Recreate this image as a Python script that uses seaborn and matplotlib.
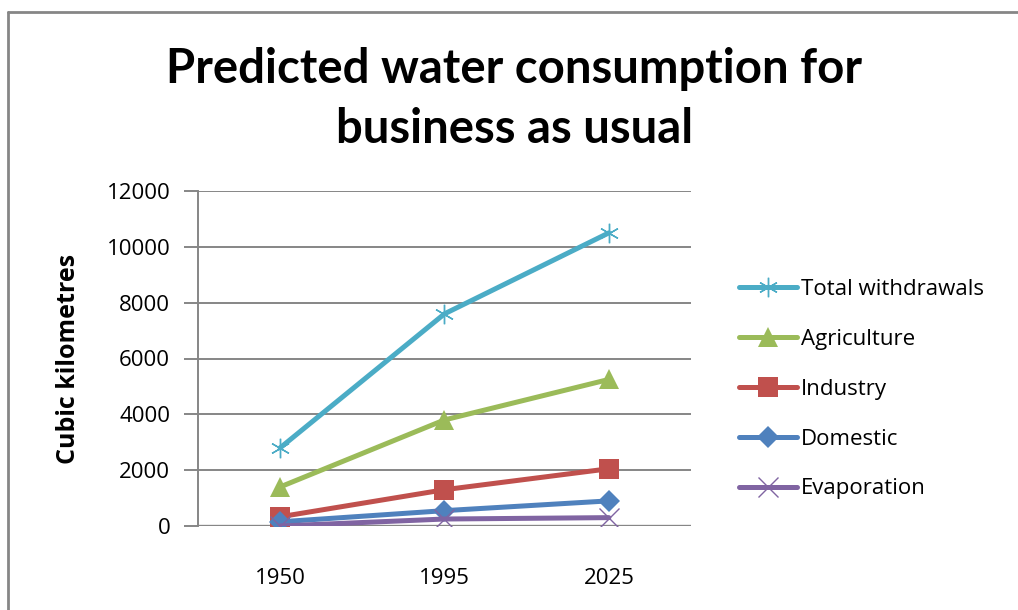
import matplotlib
matplotlib.use("Agg")
import matplotlib.pyplot as plt
from matplotlib.lines import Line2D
import seaborn as sns
import pandas as pd

years = ["1950", "1995", "2025"]
series_names = ["Total withdrawals", "Agriculture", "Industry", "Domestic", "Evaporation"]
total_withdrawals = [2800, 7600, 10500]
agriculture = [1400, 3800, 5250]
industry = [330, 1300, 2050]
domestic = [150, 550, 900]
evaporation = [0, 250, 300]
y_ticks = [0, 2000, 4000, 6000, 8000, 10000, 12000]

colors = ["#4BACC6", "#9BBB59", "#C0504D", "#4F81BD", "#8064A2"]
markers = [(6, 2, 0), "^", "s", "D", "x"]
marker_sizes = [14, 15, 15, 11, 14]

values = [total_withdrawals, agriculture, industry, domestic, evaporation]
rows = []
for name, vals in zip(series_names, values):
    for i, (yr, v) in enumerate(zip(years, vals)):
        rows.append({"pos": i, "year": yr, "value": v, "series": name})
df = pd.DataFrame(rows)

sns.set_theme(style="white")
plt.rcParams["font.family"] = ["Open Sans", "DejaVu Sans"]
plt.rcParams["text.color"] = "black"
plt.rcParams["xtick.color"] = "black"
plt.rcParams["ytick.color"] = "black"
plt.rcParams["axes.labelcolor"] = "black"
label_size = 16

fig = plt.figure(figsize=(10.18, 6.10), dpi=100)
ax = fig.add_axes([198 / 1018, 1 - 526 / 610, (691 - 198) / 1018, (526 - 191) / 610])

grid_color = "#868686"
for yv in y_ticks:
    ax.axhline(yv, color=grid_color, lw=2.4 if yv == 0 else 1.4, zorder=1)

for name, c, m, ms in zip(series_names, colors, markers, marker_sizes):
    sub = df[df["series"] == name]
    thin = name in ("Total withdrawals", "Evaporation")
    sns.lineplot(data=sub, x="pos", y="value", ax=ax, color=c, lw=3.6,
                 marker=m, markersize=ms, markeredgewidth=1.0 if thin else 0,
                 markeredgecolor=c, label=name, zorder=3, sort=False)

ax.set_xlim(-0.5, 2.5)
ax.set_ylim(0, 12000)
ax.set_xticks(range(len(years)))
ax.set_xticklabels(years, fontsize=label_size)
ax.set_xticks([-0.5, 0.5, 1.5, 2.5], minor=True)
ax.tick_params(axis="x", which="major", length=0, pad=30)
ax.tick_params(axis="x", which="minor", length=8, width=1.4, color=grid_color, direction="out")
ax.set_yticks(y_ticks)
ax.set_yticklabels([str(v) for v in y_ticks], fontsize=label_size)
ax.tick_params(axis="y", length=10, width=1.4, color=grid_color, direction="out", pad=10, left=True)
ax.set_xlabel("")
ax.set_ylabel("Cubic kilometres", fontsize=18, fontweight="bold", labelpad=18)

for side in ("top", "right", "bottom"):
    ax.spines[side].set_visible(False)
ax.spines["left"].set_color(grid_color)
ax.spines["left"].set_linewidth(1.4)
ax.spines["left"].set_bounds(0, 12000)

leg = ax.legend(loc="upper left", bbox_to_anchor=(730 / 1018, 1 - 270 / 610),
                bbox_transform=fig.transFigure, frameon=False, fontsize=label_size,
                handlelength=2.6, handletextpad=0.2, labelspacing=1.3,
                borderaxespad=0)

fig.text(0.505, 1 - 99 / 610, "Predicted water consumption for\nbusiness as usual",
         ha="center", va="center", fontsize=34, fontweight="bold", linespacing=1.42,
         family=["Lato", "DejaVu Sans"])

# outer chart frame (top and left edges)
fig.add_artist(Line2D([8 / 1018, 1.0], [1 - 12 / 610, 1 - 12 / 610],
                      transform=fig.transFigure, color=grid_color, lw=2))
fig.add_artist(Line2D([8 / 1018, 8 / 1018], [0.0, 1 - 12 / 610],
                      transform=fig.transFigure, color=grid_color, lw=2))

fig.savefig("out.png", dpi=100, facecolor="white")
